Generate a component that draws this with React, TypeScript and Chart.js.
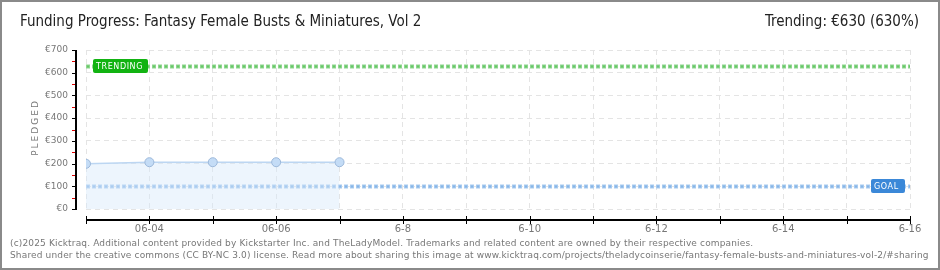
import React, { useEffect, useRef } from 'react';
import { Chart, registerables } from 'chart.js';

Chart.register(...registerables);

// ---- data ----
const dayLabels = ['06-03', '06-04', '06-05', '06-06', '06-07', '06-08', '06-09', '06-10', '06-11', '06-12', '06-13', '06-14', '06-15', '06-16'];
const xTickLabels = ['', '06-04', '', '06-06', '', '6-8', '', '6-10', '', '6-12', '', '6-14', '', '6-16'];
const pledgedDays = [0, 1, 2, 3, 4];
const pledgedValues = [199, 206, 206, 206, 206];
const goalValue = 100;
const trendingValue = 630;
const yMin = 0;
const yMax = 700;
const yStep = 100;

const titleText = 'Funding Progress: Fantasy Female Busts & Miniatures, Vol 2';
const trendingText = 'Trending: \u20ac630 (630%)';
const footerLine1 = '(c)2025 Kicktraq. Additional content provided by Kickstarter Inc. and TheLadyModel. Trademarks and related content are owned by their respective companies.';
const footerLine2 = 'Shared under the creative commons (CC BY-NC 3.0) license. Read more about sharing this image at www.kicktraq.com/projects/theladycoinserie/fantasy-female-busts-and-miniatures-vol-2/#sharing';

const TICK_FONT = '"DejaVu Sans", sans-serif';

function roundRect(ctx: CanvasRenderingContext2D, x: number, y: number, w: number, h: number, r: number) {
  ctx.beginPath();
  ctx.moveTo(x + r, y);
  ctx.lineTo(x + w - r, y);
  ctx.quadraticCurveTo(x + w, y, x + w, y + r);
  ctx.lineTo(x + w, y + h - r);
  ctx.quadraticCurveTo(x + w, y + h, x + w - r, y + h);
  ctx.lineTo(x + r, y + h);
  ctx.quadraticCurveTo(x, y + h, x, y + h - r);
  ctx.lineTo(x, y + r);
  ctx.quadraticCurveTo(x, y, x + r, y);
  ctx.closePath();
}

const overlayPlugin = {
  id: 'kickOverlay',
  beforeDatasetsDraw(chart: any) {
    const ctx: CanvasRenderingContext2D = chart.ctx;
    const xs = chart.scales.x;
    const ys = chart.scales.y;
    const left = xs.getPixelForValue(0);
    const right = xs.getPixelForValue(dayLabels.length - 1);
    const drawDotted = (val: number, light: string, dark: string) => {
      const y = Math.round(ys.getPixelForValue(val)) + 0.5;
      ctx.save();
      ctx.lineWidth = 4;
      ctx.strokeStyle = light;
      ctx.setLineDash([4, 2]);
      ctx.beginPath();
      ctx.moveTo(left, y);
      ctx.lineTo(right, y);
      ctx.stroke();
      ctx.lineWidth = 2;
      ctx.strokeStyle = dark;
      ctx.setLineDash([2, 4]);
      ctx.lineDashOffset = -1;
      ctx.beginPath();
      ctx.moveTo(left, y);
      ctx.lineTo(right, y);
      ctx.stroke();
      ctx.restore();
    };
    drawDotted(goalValue, '#a9cbef', '#86b5e8');
    drawDotted(trendingValue, '#8fd68f', '#66c766');
  },
  afterDraw(chart: any) {
    const ctx: CanvasRenderingContext2D = chart.ctx;
    const xs = chart.scales.x;
    const ys = chart.scales.y;
    const area = chart.chartArea;
    ctx.save();
    // y axis line
    const axX = area.left - 10;
    ctx.fillStyle = '#000';
    ctx.fillRect(axX - 1, ys.getPixelForValue(yMax), 2, ys.getPixelForValue(yMin) - ys.getPixelForValue(yMax) + 1);
    for (let v = yMin; v <= yMax; v += yStep) {
      const y = Math.round(ys.getPixelForValue(v));
      ctx.fillStyle = '#000';
      ctx.fillRect(axX - 4, y, 5, 1);
      if (v + yStep / 2 < yMax) {
        const ym = Math.round(ys.getPixelForValue(v + yStep / 2));
        ctx.fillStyle = '#e00000';
        ctx.fillRect(axX - 4, ym, 3, 1);
      }
    }
    // x axis line
    const axY = area.bottom + 10;
    ctx.fillStyle = '#000';
    const x0 = xs.getPixelForValue(0);
    const x1 = xs.getPixelForValue(dayLabels.length - 1);
    ctx.fillRect(x0, axY, x1 - x0 + 1, 2);
    for (let d = 0; d < dayLabels.length; d++) {
      const x = Math.round(xs.getPixelForValue(d));
      ctx.fillRect(x, axY - 3, 1, 8);
    }
    // y axis title
    ctx.translate(36, (area.top + area.bottom) / 2 - 2);
    ctx.rotate(-Math.PI / 2);
    ctx.font = '9px ' + TICK_FONT;
    (ctx as any).letterSpacing = '2px';
    ctx.fillStyle = '#777';
    ctx.textAlign = 'center';
    ctx.textBaseline = 'middle';
    ctx.fillText('PLEDGED', 0, 0);
    ctx.restore();

    // labels
    const drawTag = (text: string, val: number, x: number, w: number, color: string) => {
      const y = ys.getPixelForValue(val);
      ctx.save();
      ctx.fillStyle = color;
      roundRect(ctx, x, Math.round(y - 7), w, 14, 2);
      ctx.fill();
      ctx.fillStyle = '#fff';
      ctx.font = '8px ' + TICK_FONT;
      (ctx as any).letterSpacing = '0.6px';
      ctx.textAlign = 'left';
      ctx.textBaseline = 'middle';
      ctx.fillText(text, x + 3, Math.round(y) + 0.5);
      ctx.restore();
    };
    drawTag('TRENDING', trendingValue, area.left + 7, 55, '#12b312');
    drawTag('GOAL', goalValue, area.right - 39, 34, '#3b88d8');
  },
};

export default function App() {
  const canvasRef = useRef<HTMLCanvasElement | null>(null);

  useEffect(() => {
    if (!canvasRef.current) return;
    const chart = new Chart(canvasRef.current, {
      type: 'line',
      data: {
        datasets: [
          {
            label: 'Pledged',
            data: pledgedDays.map((d, i) => ({ x: d, y: pledgedValues[i] })),
            borderColor: '#bcd6f2',
            borderWidth: 1.5,
            backgroundColor: 'rgba(214,232,250,0.45)',
            fill: 'origin',
            pointRadius: 4.5,
            pointBackgroundColor: '#c4dcf6',
            pointBorderColor: '#9cb8da',
            pointBorderWidth: 1,
            tension: 0,
          },
        ],
      },
      options: {
        animation: false,
        responsive: false,
        devicePixelRatio: 1,
        layout: { padding: { left: 0, right: 30, top: 50, bottom: 21 } },
        plugins: { legend: { display: false }, tooltip: { enabled: false }, title: { display: false } },
        scales: {
          x: {
            type: 'linear',
            min: 0,
            max: dayLabels.length - 1,
            afterFit: (s: any) => { s.height = 40; },
            afterBuildTicks: (s: any) => { s.ticks = dayLabels.map((_, i) => ({ value: i })); },
            grid: { color: '#e4e4e4', drawTicks: false, lineWidth: 1 },
            border: { display: false, dash: [5, 4] },
            ticks: {
              padding: 14,
              autoSkip: false,
              maxRotation: 0,
              color: '#777',
              font: { family: TICK_FONT, size: 10 },
              callback: (v: any) => xTickLabels[Math.round(Number(v))] ?? '',
            },
          },
          y: {
            min: yMin,
            max: yMax,
            afterFit: (s: any) => { s.width = 86; },
            grid: { color: '#e4e4e4', drawTicks: false, lineWidth: 1 },
            border: { display: false, dash: [5, 4] },
            ticks: {
              stepSize: yStep,
              padding: 18,
              color: '#777',
              font: { family: TICK_FONT, size: 9 },
              callback: (v: any) => '\u20ac' + v,
            },
          },
        },
      },
      plugins: [overlayPlugin],
    });
    return () => chart.destroy();
  }, []);

  const titleFont = '"Liberation Sans Narrow", "DejaVu Sans Condensed", sans-serif';
  return (
    <div style={{ position: 'fixed', left: 0, top: 0, width: 940, height: 270, background: '#fff', boxSizing: 'border-box', border: '2px solid #8a8a8a', overflow: 'hidden' }}>
      <canvas ref={canvasRef} width={940} height={270} style={{ position: 'absolute', left: -2, top: -2, width: 940, height: 270 }} />
      <div style={{ position: 'absolute', left: 18, top: 10, fontFamily: titleFont, fontSize: 15, color: '#222', whiteSpace: 'nowrap' }}>{titleText}</div>
      <div style={{ position: 'absolute', right: 19, top: 10, fontFamily: titleFont, fontSize: 15, color: '#222', whiteSpace: 'nowrap' }}>{trendingText}</div>
      <div style={{ position: 'absolute', left: 8, top: 235, fontFamily: '"DejaVu Sans", sans-serif', fontSize: 9, lineHeight: '12px', letterSpacing: '0.15px', color: '#777', whiteSpace: 'nowrap' }}>
        <div>{footerLine1}</div>
        <div>{footerLine2}</div>
      </div>
    </div>
  );
}
